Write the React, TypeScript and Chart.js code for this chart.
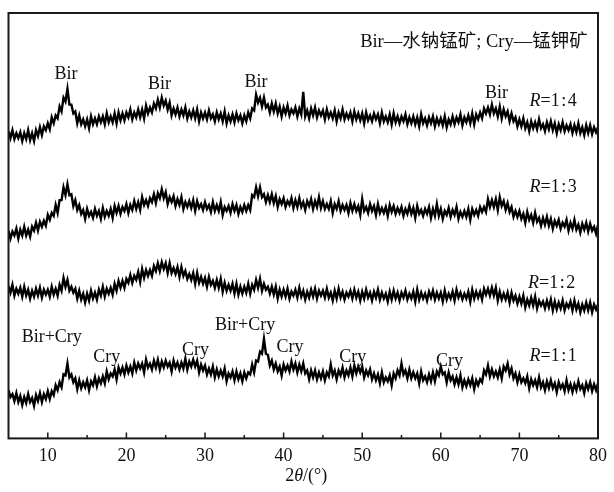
import React, { useEffect, useRef } from "react";
import { Chart, registerables } from "chart.js";

Chart.register(...registerables);

// 2θ sampling grid (degrees): 5° to 80° every 0.25°
const ANGLE_START = 5;
const ANGLE_STEP = 0.25;

// Offset intensities (arbitrary units), noise included
const R14 = [
  312, 305, 313, 304, 310, 305, 311, 302, 310, 304, 313, 303, 310, 302, 313, 307, 316, 308, 317, 313,
  320, 314, 326, 320, 328, 325, 337, 332, 346, 342, 355, 339, 339, 330, 332, 320, 328, 319, 324, 317,
  324, 315, 327, 319, 325, 319, 327, 321, 327, 319, 330, 321, 327, 321, 330, 320, 331, 323, 330, 323,
  331, 326, 334, 324, 331, 326, 334, 326, 334, 325, 338, 330, 336, 331, 340, 335, 344, 336, 346, 338,
  343, 334, 341, 328, 335, 329, 336, 327, 334, 328, 336, 325, 332, 326, 333, 325, 334, 322, 331, 325,
  331, 324, 333, 325, 329, 322, 331, 324, 330, 322, 332, 320, 328, 322, 329, 321, 330, 323, 328, 320,
  328, 322, 331, 325, 335, 333, 349, 341, 346, 337, 346, 336, 339, 331, 340, 332, 340, 330, 337, 327,
  336, 330, 338, 328, 334, 330, 336, 327, 335, 329, 352, 327, 333, 325, 335, 328, 336, 326, 333, 328,
  333, 324, 334, 326, 331, 325, 333, 322, 331, 325, 334, 324, 330, 325, 331, 322, 332, 324, 330, 323,
  330, 320, 331, 323, 328, 322, 330, 324, 329, 320, 331, 322, 327, 321, 329, 319, 330, 321, 327, 320,
  327, 322, 329, 319, 326, 320, 327, 319, 326, 317, 329, 320, 325, 318, 326, 320, 327, 317, 325, 319,
  325, 318, 327, 316, 324, 319, 327, 319, 326, 321, 329, 318, 326, 321, 328, 320, 330, 319, 329, 324,
  331, 325, 335, 330, 336, 329, 339, 330, 335, 327, 337, 325, 334, 327, 332, 322, 330, 322, 326, 317,
  324, 317, 325, 315, 321, 312, 322, 315, 321, 314, 324, 315, 319, 312, 321, 314, 322, 313, 320, 310,
  319, 313, 321, 312, 318, 313, 319, 310, 318, 311, 320, 310, 316, 308, 318, 310, 318, 309, 316, 311,
  316,
];

const R13 = [
  211, 203, 210, 206, 213, 203, 212, 206, 215, 206, 212, 205, 215, 211, 219, 211, 220, 215, 221, 216,
  227, 222, 229, 226, 237, 229, 242, 242, 255, 247, 258, 247, 248, 236, 242, 232, 237, 228, 232, 223,
  233, 226, 230, 224, 233, 226, 231, 223, 234, 225, 231, 226, 233, 224, 236, 229, 236, 228, 235, 231,
  238, 229, 237, 232, 241, 233, 240, 232, 245, 237, 242, 236, 244, 240, 248, 239, 249, 244, 253, 244,
  250, 238, 245, 240, 246, 236, 243, 237, 245, 233, 240, 235, 241, 234, 242, 231, 241, 234, 238, 232,
  240, 233, 237, 230, 240, 231, 237, 231, 240, 227, 235, 231, 236, 229, 238, 231, 237, 228, 235, 230,
  237, 231, 237, 232, 247, 245, 255, 246, 255, 245, 248, 240, 247, 240, 248, 239, 246, 235, 243, 238,
  244, 235, 241, 237, 244, 234, 242, 235, 244, 235, 240, 232, 241, 236, 243, 233, 241, 235, 245, 234,
  241, 233, 238, 233, 241, 229, 238, 233, 241, 231, 237, 232, 237, 229, 239, 231, 238, 231, 236, 227,
  243, 231, 235, 229, 238, 231, 236, 227, 238, 229, 234, 229, 235, 226, 237, 230, 236, 228, 234, 229,
  235, 226, 233, 228, 236, 228, 234, 224, 236, 228, 232, 226, 233, 228, 235, 224, 233, 226, 238, 226,
  233, 223, 231, 227, 234, 225, 232, 227, 235, 223, 230, 225, 231, 225, 233, 222, 233, 227, 232, 226,
  235, 230, 235, 230, 243, 235, 242, 235, 243, 232, 245, 236, 241, 232, 239, 230, 235, 225, 231, 225,
  231, 223, 228, 219, 230, 222, 227, 219, 229, 220, 224, 216, 224, 217, 225, 216, 223, 213, 221, 216,
  222, 213, 219, 215, 222, 211, 219, 213, 222, 212, 217, 209, 218, 212, 219, 210, 218, 211, 215, 208,
  217,
];

const R12 = [
  155, 148, 156, 145, 152, 147, 153, 144, 154, 145, 151, 142, 150, 144, 152, 145, 153, 143, 151, 146,
  151, 144, 154, 146, 152, 145, 156, 150, 163, 154, 161, 150, 154, 148, 152, 142, 150, 141, 147, 138,
  147, 140, 150, 142, 148, 141, 151, 145, 154, 144, 152, 147, 153, 146, 157, 150, 160, 153, 160, 153,
  162, 158, 166, 158, 165, 161, 169, 159, 172, 163, 171, 165, 171, 165, 175, 170, 178, 170, 179, 172,
  178, 168, 178, 168, 173, 167, 174, 164, 174, 165, 170, 162, 167, 161, 168, 157, 168, 158, 164, 157,
  163, 154, 164, 156, 160, 153, 161, 153, 162, 149, 158, 150, 156, 150, 157, 147, 157, 146, 154, 147,
  154, 148, 157, 147, 156, 151, 161, 153, 162, 150, 157, 151, 154, 147, 154, 146, 154, 142, 151, 144,
  151, 144, 152, 142, 149, 145, 151, 143, 153, 144, 150, 141, 149, 143, 151, 144, 152, 142, 150, 145,
  150, 143, 152, 143, 148, 140, 150, 142, 152, 143, 149, 141, 148, 144, 150, 142, 151, 143, 149, 140,
  149, 142, 151, 143, 148, 140, 149, 143, 151, 141, 148, 142, 147, 139, 149, 141, 150, 142, 148, 140,
  148, 143, 150, 141, 147, 142, 149, 139, 151, 141, 148, 142, 147, 140, 149, 143, 150, 141, 148, 142,
  148, 139, 150, 141, 147, 142, 149, 140, 151, 143, 148, 141, 147, 142, 149, 139, 151, 142, 149, 143,
  149, 141, 152, 146, 152, 145, 153, 145, 153, 140, 149, 141, 147, 141, 148, 138, 148, 140, 145, 137,
  144, 137, 145, 133, 141, 135, 143, 135, 144, 132, 140, 135, 139, 132, 140, 133, 141, 130, 139, 131,
  138, 132, 140, 130, 137, 133, 139, 130, 140, 131, 137, 128, 136, 130, 138, 130, 138, 128, 136, 131,
  136,
];

const R11 = [
  49, 42, 45, 38, 46, 37, 43, 34, 42, 36, 45, 37, 41, 33, 44, 38, 46, 37, 45, 40,
  48, 40, 48, 44, 54, 49, 57, 52, 65, 64, 76, 62, 65, 57, 61, 50, 59, 51, 57, 52,
  59, 49, 58, 54, 62, 53, 61, 56, 63, 56, 68, 60, 66, 63, 70, 60, 72, 66, 72, 65,
  74, 67, 73, 66, 77, 69, 76, 71, 76, 67, 80, 72, 76, 70, 79, 72, 80, 70, 78, 72,
  79, 73, 77, 68, 79, 72, 77, 70, 77, 71, 81, 70, 78, 73, 80, 73, 79, 67, 75, 69,
  74, 65, 71, 65, 73, 62, 70, 63, 69, 63, 71, 58, 66, 62, 68, 59, 68, 60, 66, 58,
  67, 61, 67, 65, 75, 67, 79, 78, 88, 86, 101, 86, 85, 74, 79, 70, 76, 68, 73, 64,
  75, 69, 74, 68, 78, 70, 76, 67, 75, 68, 76, 66, 69, 60, 69, 62, 69, 60, 67, 61,
  68, 59, 67, 63, 75, 64, 69, 60, 69, 64, 72, 62, 69, 64, 72, 63, 74, 66, 73, 67,
  73, 62, 69, 64, 70, 60, 66, 59, 65, 56, 67, 57, 62, 58, 64, 54, 66, 61, 69, 64,
  76, 65, 69, 61, 70, 61, 67, 61, 66, 56, 68, 59, 63, 57, 65, 58, 67, 58, 68, 64,
  73, 65, 67, 57, 67, 59, 63, 55, 62, 55, 64, 52, 59, 53, 60, 54, 61, 50, 59, 54,
  60, 57, 69, 65, 74, 63, 70, 63, 68, 62, 70, 61, 73, 69, 76, 65, 71, 61, 66, 57,
  65, 57, 61, 56, 63, 51, 60, 54, 59, 52, 62, 52, 57, 49, 58, 51, 59, 51, 56, 47,
  57, 51, 55, 48, 59, 49, 55, 47, 55, 49, 58, 50, 54, 46, 56, 50, 57, 48, 55, 49,
  56,
];

const SERIES = [R14, R13, R12, R11];
const RATIO_NAMES = ["1:4", "1:3", "1:2", "1:1"];
const RATIO_POS_X = [74.3, 74.3, 74.1, 74.3];
const RATIO_POS_Y = [342, 255, 158, 83];

const PEAK_TEXTS = ["Bir", "Bir", "Bir", "Bir", "Bir+Cry", "Cry", "Cry", "Bir+Cry", "Cry", "Cry", "Cry"];
const PEAK_X = [12.3, 24.2, 36.5, 67.1, 10.5, 17.5, 28.8, 35.1, 40.8, 48.8, 61.1];
const PEAK_Y = [370, 360, 362, 350, 103, 82, 90, 115, 93, 82, 78];

const LEGEND_TEXT = "Bir—水钠锰矿; Cry—锰钾矿";
const LEGEND_X = 78.7;
const LEGEND_Y = 402;

const MAJOR_TICKS = [10, 20, 30, 40, 50, 60, 70, 80];
const MINOR_TICKS = [15, 25, 35, 45, 55, 65, 75];

const SERIF = "'Liberation Serif', 'Times New Roman', 'Noto Sans CJK SC', serif";
const INK = "#111";

type Run = { t: string; italic?: boolean };

function drawRuns(ctx: CanvasRenderingContext2D, runs: Run[], x: number, y: number, size: number, align: "center" | "right" | "left") {
  const widths = runs.map((r) => {
    ctx.font = `${r.italic ? "italic " : ""}${size}px ${SERIF}`;
    return ctx.measureText(r.t).width;
  });
  const total = widths.reduce((a, b) => a + b, 0);
  let cx = align === "center" ? x - total / 2 : align === "right" ? x - total : x;
  ctx.textAlign = "left";
  ctx.textBaseline = "middle";
  runs.forEach((r, i) => {
    ctx.font = `${r.italic ? "italic " : ""}${size}px ${SERIF}`;
    ctx.fillText(r.t, cx, y);
    cx += widths[i];
  });
}

const decorPlugin = {
  id: "decor",
  afterDraw(chart: any) {
    const { ctx, chartArea: a } = chart;
    const xs = chart.scales.x;
    const ys = chart.scales.y;
    ctx.save();
    ctx.strokeStyle = "#1a1a1a";
    ctx.lineWidth = 2;
    ctx.strokeRect(a.left, a.top, a.right - a.left, a.bottom - a.top);
    ctx.lineWidth = 1.5;
    ctx.beginPath();
    MAJOR_TICKS.forEach((v) => {
      const px = xs.getPixelForValue(v);
      ctx.moveTo(px, a.bottom);
      ctx.lineTo(px, a.bottom - 6);
    });
    MINOR_TICKS.forEach((v) => {
      const px = xs.getPixelForValue(v);
      ctx.moveTo(px, a.bottom);
      ctx.lineTo(px, a.bottom - 3.5);
    });
    ctx.stroke();

    ctx.fillStyle = INK;
    PEAK_TEXTS.forEach((t, i) => {
      drawRuns(ctx, [{ t }], xs.getPixelForValue(PEAK_X[i]), ys.getPixelForValue(PEAK_Y[i]), 18, "center");
    });
    RATIO_NAMES.forEach((t, i) => {
      drawRuns(
        ctx,
        [{ t: "R", italic: true }, { t: "=" + t.replace(":", "\u200A:\u200A") }],
        xs.getPixelForValue(RATIO_POS_X[i]),
        ys.getPixelForValue(RATIO_POS_Y[i]),
        18,
        "center"
      );
    });
    drawRuns(ctx, [{ t: LEGEND_TEXT }], xs.getPixelForValue(LEGEND_X), ys.getPixelForValue(LEGEND_Y), 18.5, "right");

    drawRuns(
      ctx,
      [{ t: "2" }, { t: "θ", italic: true }, { t: "/(°)" }],
      (a.left + a.right) / 2 + 3,
      a.bottom + 38,
      18,
      "center"
    );
    ctx.restore();
  },
};

export default function App() {
  const ref = useRef<HTMLCanvasElement | null>(null);
  useEffect(() => {
    if (!ref.current) return;
    const chart = new Chart(ref.current, {
      type: "line",
      data: {
        datasets: SERIES.map((s, k) => ({
          label: "R=" + RATIO_NAMES[k],
          data: s.map((v, i) => ({ x: ANGLE_START + i * ANGLE_STEP, y: v })),
          borderColor: "#000",
          borderWidth: 2.4,
          pointRadius: 0,
          tension: 0,
          fill: false,
        })),
      },
      options: {
        animation: false,
        responsive: false,
        devicePixelRatio: 1,
        layout: { padding: { left: 8.5, right: 11, top: 13, bottom: 18 } },
        plugins: { legend: { display: false }, tooltip: { enabled: false }, title: { display: false } },
        scales: {
          x: {
            type: "linear",
            min: 5,
            max: 80,
            afterBuildTicks: (scale: any) => {
              scale.ticks = MAJOR_TICKS.map((v) => ({ value: v }));
            },
            grid: { display: false, drawTicks: false },
            border: { display: false },
            ticks: {
              padding: 7,
              color: INK,
              font: { family: SERIF, size: 18 },
              maxRotation: 0,
              autoSkip: false,
            },
          },
          y: {
            display: false,
            min: 0,
            max: 432,
          },
        },
      },
      plugins: [decorPlugin],
    });
    return () => chart.destroy();
  }, []);
  return (
    <div style={{ position: "absolute", left: 0, top: 0, width: 614, height: 492, background: "#fff" }}>
      <canvas ref={ref} width={614} height={492} />
    </div>
  );
}
